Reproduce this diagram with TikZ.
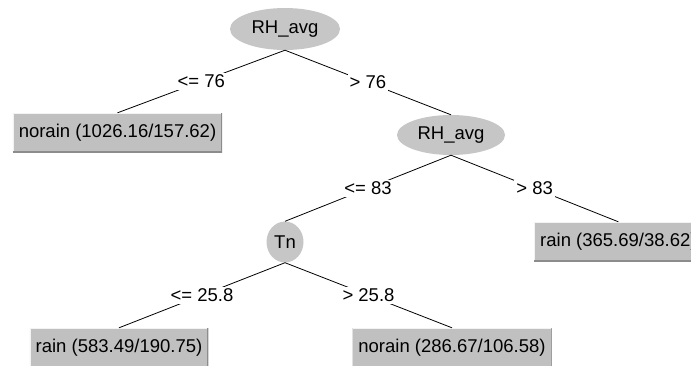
\documentclass[tikz,border=0pt]{standalone}
\usepackage{fontspec}
\setmainfont{Liberation Sans}
\usepackage{tikz}
\usetikzlibrary{shapes.geometric}
\definecolor{nodegray}{HTML}{C6C6C6}
\definecolor{leafgray}{HTML}{C0C0C0}

\begin{document}
\begin{tikzpicture}[x=1pt, y=-1pt,
	every node/.style={font=\fontsize{18.5}{21}\selectfont},
	split/.style={ellipse, fill=nodegray, inner sep=0pt},
	leaf/.style={rectangle, fill=leafgray, inner xsep=6pt, inner ysep=0pt, minimum height=39pt,
		path picture={
			\draw[line width=2pt, white!80!leafgray] (path picture bounding box.south west) -- (path picture bounding box.north west) -- (path picture bounding box.north east);
			\draw[line width=2pt, black!45] (path picture bounding box.south west) -- (path picture bounding box.south east) -- (path picture bounding box.north east);}},
	cond/.style={fill=white, inner sep=2pt},
	edge/.style={line width=0.8pt}]
	\clip (0, 0) rectangle (691, 365);
	\node [split, minimum width=110pt, minimum height=42pt] (RT) at (285, 29) {RH\_avg};
	\node [leaf] (LT) at (117.5, 132.5) {norain (1026.16/157.62)};
	\node [split, minimum width=108pt, minimum height=40pt] (RM) at (451, 135) {RH\_avg};
	\node [leaf, anchor=west] (RR) at (534, 241.5) {rain (365.69/38.62)};
	\node [split, minimum width=37pt, minimum height=41pt] (TN) at (285, 242) {Tn};
	\node [leaf] (LB) at (119, 347.5) {rain (583.49/190.75)};
	\node [leaf] (RB) at (452, 347.5) {norain (286.67/106.58)};
	\draw [edge] (RT.south) -- node [cond] {<= 76} (LT.north);
	\draw [edge] (RT.south) -- node [cond] {> 76} (RM.north);
	\draw [edge] (RM.south) -- node [cond] {<= 83} (TN.north);
	\draw [edge] (RM.south) -- node [cond] {> 83} (RR.north);
	\draw [edge] (TN.south) -- node [cond] {<= 25.8} (LB.north);
	\draw [edge] (TN.south) -- node [cond] {> 25.8} (RB.north);
\end{tikzpicture}
\end{document}
